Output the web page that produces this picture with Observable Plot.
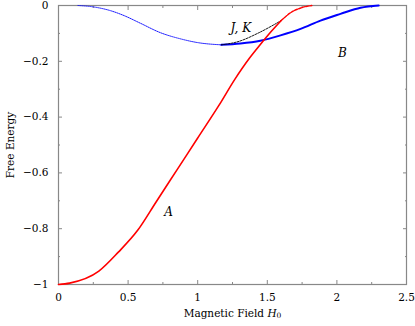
<!DOCTYPE html>
<html><head><meta charset="utf-8">
<script src="https://cdn.jsdelivr.net/npm/d3@7"></script>
<script src="https://cdn.jsdelivr.net/npm/@observablehq/plot@0.6"></script>
<style>body{margin:0;background:#fff} svg text{font-family:"DejaVu Serif",serif !important;}</style>
</head><body><div id="chart"></div>
<script>
// Curve A (red), stable part
const redX = [0, 0.08, 0.29, 0.43, 0.57, 0.7, 0.85, 1.0, 1.15, 1.27, 1.37, 1.45, 1.52, 1.6];
const redY = [-1, -0.995, -0.952, -0.884, -0.805, -0.705, -0.59, -0.475, -0.36, -0.262, -0.19, -0.14, -0.098, -0.054];
// Curve A (red), dashed continuation
const redDashX = [1.6, 1.67, 1.74, 1.82];
const redDashY = [-0.054, -0.025, -0.009, 0];
// Curve B (blue), thin dotted part
const blueThinX = [0.14, 0.25, 0.37, 0.47, 0.59, 0.73, 0.88, 1.0, 1.17];
const blueThinY = [0, -0.005, -0.018, -0.036, -0.064, -0.097, -0.12, -0.133, -0.141];
// Curve B (blue), thick part
const blueX = [1.17, 1.307, 1.45, 1.595, 1.739, 1.882, 2.026, 2.17, 2.3];
const blueY = [-0.141, -0.136, -0.126, -0.107, -0.084, -0.054, -0.03, -0.008, 0];
// J,K (black dashed)
const jkX = [1.17, 1.3, 1.43, 1.6];
const jkY = [-0.141, -0.128, -0.1, -0.054];
// labels
const labelText = ["J, K", "A", "B"];
const labelX = [1.31, 0.79, 2.04];
const labelY = [-0.08, -0.74, -0.172];
// ticks
const xMajor = [0, 0.5, 1, 1.5, 2, 2.5];
const xMinor = [0.25, 0.75, 1.25, 1.75, 2.25];
const yMajor = [-1, -0.8, -0.6, -0.4, -0.2, 0];
const yMinor = [-0.9, -0.7, -0.5, -0.3, -0.1];

const pts = (xs, ys) => xs.map((x, i) => ({x, y: ys[i]}));
const labels = labelText.map((t, i) => ({t, x: labelX[i], y: labelY[i]}));
const gray = "#888";
const noText = () => "";
const fmt = d3.format("~g");

const plot = Plot.plot({
  width: 415, height: 326,
  marginLeft: 58, marginRight: 9, marginTop: 5, marginBottom: 42,
  style: {fontFamily: "DejaVu Serif", fontSize: "10.5px", background: "#fff", color: "#000"},
  x: {domain: [0, 2.5]},
  y: {domain: [-1, 0]},
  marks: [
    Plot.axisX({anchor: "bottom", ticks: xMajor, tickSize: -4, tickPadding: 13, tickFormat: fmt, stroke: gray,
      label: "Magnetic Field H0", labelAnchor: "center", labelArrow: "none", labelOffset: 32}),
    Plot.axisX({anchor: "bottom", ticks: xMinor, tickSize: -2, tickFormat: noText, stroke: gray, label: null}),
    Plot.axisX({anchor: "top", ticks: xMajor, tickSize: -4, tickFormat: noText, stroke: gray, label: null}),
    Plot.axisX({anchor: "top", ticks: xMinor, tickSize: -2, tickFormat: noText, stroke: gray, label: null}),
    Plot.axisY({anchor: "left", ticks: yMajor, tickSize: -4, tickPadding: 14, tickFormat: fmt, stroke: gray,
      label: "Free Energy", labelAnchor: "center", labelArrow: "none", labelOffset: 52}),
    Plot.axisY({anchor: "left", ticks: yMinor, tickSize: -2, tickFormat: noText, stroke: gray, label: null}),
    Plot.axisY({anchor: "right", ticks: yMajor, tickSize: -4, tickFormat: noText, stroke: gray, label: null}),
    Plot.axisY({anchor: "right", ticks: yMinor, tickSize: -2, tickFormat: noText, stroke: gray, label: null}),
    Plot.frame({stroke: gray, strokeWidth: 1.2}),
    Plot.line(pts(blueThinX, blueThinY), {x: "x", y: "y", stroke: "#0000ff", strokeWidth: 0.9, strokeDasharray: "1,1", curve: "monotone-x"}),
    Plot.line(pts(blueX, blueY), {x: "x", y: "y", stroke: "#0000ff", strokeWidth: 2, curve: "monotone-x"}),
    Plot.line(pts(jkX, jkY), {x: "x", y: "y", stroke: "#000", strokeWidth: 0.9, strokeDasharray: "2,1.2", curve: "monotone-x"}),
    Plot.line(pts(redX, redY), {x: "x", y: "y", stroke: "#ff0000", strokeWidth: 1.6, curve: "monotone-x"}),
    Plot.line(pts(redDashX, redDashY), {x: "x", y: "y", stroke: "#ff0000", strokeWidth: 1.4, strokeDasharray: "3,1.2", curve: "monotone-x"}),
    Plot.text(labels, {x: "x", y: "y", text: "t", fontStyle: "italic", fontSize: 12, fill: "#000"})
  ]
});
document.getElementById("chart").append(plot);

d3.select(plot).selectAll("text").each(function() {
  const el = d3.select(this);
  if (el.text() === "Magnetic Field H0") {
    el.text("");
    el.append("tspan").text("Magnetic Field ");
    el.append("tspan").attr("font-style", "italic").text("H");
    el.append("tspan").attr("font-size", "7.5px").attr("dy", "0.25em").text("0");
  }
});
</script>
</body></html>
